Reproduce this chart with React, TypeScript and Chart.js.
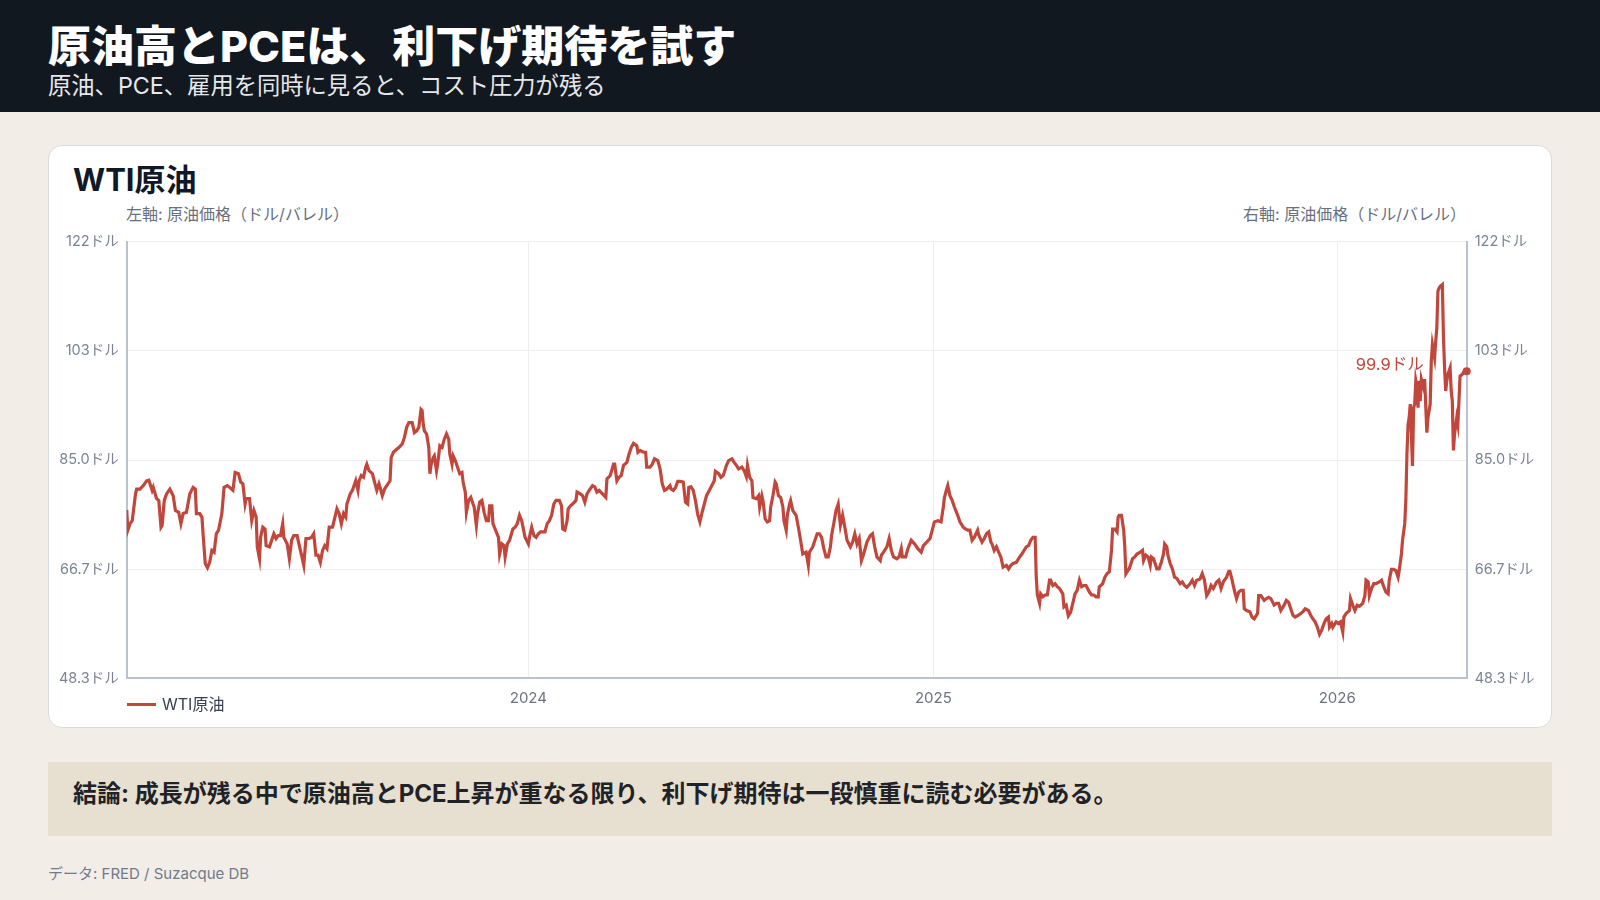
import { useEffect, useRef } from 'react'
import Chart from 'chart.js/auto'

// ─── palette ────────────────────────────────────────────────────────────────
const C = {
  page: '#f2eee7',
  header: '#111820',
  cardBorder: '#d7dce3',
  note: '#e7dfcf',
  line: '#c1463b',
  ink: '#111827',
  text: '#374151',
  muted: '#7b8494',
  axisTitle: '#687080',
  grid: '#eceef2',
  axis: '#b9c3cf',
}

const FONT = 'Inter, "Noto Sans CJK JP", "Noto Sans", sans-serif'

// ─── data: [days since 2023-01-01, WTI price in USD/bbl] ─────────────────────
const wtiDaily: [number, number][] = [
  [2, 76.6], [3, 73.2], [5, 74.3], [7, 74.8], [10, 79.3], [11, 80.1], [14, 80.1], [17, 80.7], [20, 81.5], [22, 81.6],
  [25, 79.9], [26, 80.4], [29, 78.5], [31, 78.2], [33, 73.7], [34, 74.0], [36, 78.2], [38, 79.3], [41, 80.1], [44, 79.0],
  [46, 76.5], [49, 76.2], [51, 74.3], [53, 76.0], [56, 76.2], [59, 79.3], [62, 80.4], [64, 80.1], [65, 76.0], [68, 76.0],
  [70, 75.4], [71, 72.6], [73, 67.6], [75, 66.9], [77, 67.8], [79, 69.8], [81, 69.5], [83, 72.6], [85, 73.2], [88, 76.0],
  [90, 80.4], [93, 80.7], [95, 80.4], [98, 79.9], [100, 82.9], [103, 82.7], [105, 81.3], [107, 81.0], [109, 77.6], [110, 78.5],
  [113, 78.5], [115, 74.8], [117, 76.5], [119, 75.4], [120, 70.4], [122, 68.4], [123, 72.0], [125, 73.7], [127, 73.4], [128, 70.6],
  [131, 70.4], [133, 71.5], [135, 72.6], [137, 71.8], [139, 72.3], [141, 72.3], [143, 74.3], [144, 72.0], [147, 70.9], [149, 68.4],
  [151, 71.5], [153, 72.3], [156, 72.3], [158, 70.6], [160, 69.0], [162, 67.3], [164, 71.8], [167, 71.8], [169, 72.0], [171, 72.6],
  [173, 69.0], [175, 69.0], [177, 67.8], [179, 69.8], [181, 70.6], [183, 70.1], [185, 73.7], [188, 73.7], [192, 76.8], [194, 76.0],
  [196, 74.3], [198, 76.0], [200, 75.4], [201, 77.6], [204, 79.3], [206, 79.9], [209, 81.5], [211, 79.9], [212, 81.5], [214, 82.4],
  [216, 82.1], [218, 83.8], [219, 84.3], [221, 83.2], [224, 82.7], [226, 81.3], [228, 79.9], [230, 81.0], [231, 80.4], [233, 79.0],
  [235, 80.1], [237, 80.7], [240, 81.5], [241, 85.4], [243, 86.3], [246, 86.8], [248, 87.1], [251, 87.7], [253, 88.8], [255, 90.5],
  [257, 91.3], [260, 91.3], [262, 89.6], [264, 89.9], [266, 90.5], [268, 93.5], [269, 93.3], [270, 91.0], [271, 89.9], [273, 89.4],
  [275, 87.1], [276, 82.7], [277, 84.1], [279, 85.4], [280, 85.7], [282, 83.2], [283, 84.3], [285, 87.4], [287, 87.1], [289, 88.5],
  [291, 89.4], [293, 88.5], [294, 86.0], [296, 84.3], [297, 85.7], [299, 84.9], [301, 83.8], [303, 82.7], [305, 82.9], [306, 81.3],
  [308, 79.6], [309, 76.2], [311, 78.2], [313, 78.7], [315, 77.6], [316, 77.1], [318, 74.0], [319, 75.9], [321, 77.9], [323, 78.2],
  [325, 76.2], [327, 74.8], [329, 74.8], [330, 77.3], [332, 77.3], [333, 74.3], [336, 72.9], [338, 72.0], [339, 69.2], [341, 70.9],
  [343, 70.6], [344, 68.7], [346, 70.9], [348, 71.5], [351, 73.4], [353, 73.7], [355, 74.3], [357, 75.7], [359, 74.8], [362, 72.0],
  [365, 70.9], [366, 72.0], [368, 73.7], [370, 72.3], [372, 72.0], [374, 72.6], [376, 72.9], [380, 72.9], [382, 74.3], [384, 74.8],
  [386, 75.7], [388, 77.6], [390, 78.2], [393, 78.2], [395, 77.3], [396, 73.4], [398, 73.2], [400, 74.8], [401, 76.8], [403, 77.3],
  [405, 77.6], [408, 78.2], [409, 79.6], [412, 79.3], [414, 79.0], [416, 77.9], [418, 79.3], [420, 79.9], [423, 80.7], [425, 80.5],
  [427, 79.6], [429, 79.9], [432, 79.3], [435, 78.7], [436, 81.8], [439, 82.4], [442, 84.3], [443, 84.3], [445, 81.5], [447, 82.1],
  [449, 82.4], [451, 84.1], [454, 84.6], [456, 86.0], [458, 87.1], [460, 87.8], [463, 87.4], [464, 86.3], [466, 86.6], [469, 86.3],
  [471, 86.3], [472, 83.8], [475, 83.8], [477, 84.3], [479, 85.2], [482, 84.9], [484, 83.5], [486, 81.0], [488, 79.9], [490, 80.1],
  [493, 80.7], [494, 80.1], [496, 79.9], [498, 80.4], [500, 81.4], [502, 81.4], [505, 81.3], [507, 77.9], [509, 77.6], [510, 80.4],
  [512, 80.5], [514, 79.9], [516, 78.2], [518, 75.9], [520, 74.6], [522, 76.2], [524, 77.6], [526, 79.0], [528, 79.7], [530, 80.4],
  [533, 81.5], [534, 83.1], [537, 82.7], [539, 82.1], [541, 82.4], [542, 82.9], [544, 84.1], [546, 84.9], [549, 85.2], [551, 84.6],
  [553, 84.1], [555, 83.5], [558, 83.8], [560, 83.2], [562, 82.2], [563, 84.1], [565, 82.1], [567, 81.5], [568, 78.7], [571, 78.5],
  [573, 79.0], [574, 77.1], [576, 79.0], [577, 78.2], [579, 75.1], [581, 74.6], [583, 74.8], [584, 77.1], [586, 79.0], [588, 81.3],
  [589, 81.0], [591, 79.0], [593, 78.7], [595, 77.1], [596, 74.8], [598, 73.2], [599, 75.7], [601, 77.6], [602, 78.2], [604, 76.5],
  [607, 75.7], [609, 73.7], [611, 71.5], [613, 69.2], [616, 69.5], [618, 67.3], [619, 69.5], [622, 70.4], [624, 71.5], [626, 72.6],
  [628, 72.6], [630, 72.0], [632, 70.1], [634, 68.7], [636, 68.7], [638, 70.4], [639, 72.3], [641, 74.3], [643, 76.5], [645, 77.6],
  [646, 75.7], [647, 74.0], [649, 75.7], [651, 73.7], [653, 71.5], [656, 70.4], [658, 71.2], [660, 72.6], [662, 70.9], [664, 71.8],
  [666, 68.1], [668, 69.2], [671, 71.2], [674, 72.3], [676, 72.6], [678, 70.4], [680, 68.7], [683, 68.1], [684, 69.0], [686, 69.5],
  [689, 70.4], [691, 71.8], [693, 69.8], [695, 68.7], [698, 68.4], [700, 68.7], [702, 70.1], [703, 68.7], [706, 68.7], [708, 70.1],
  [711, 71.5], [714, 70.9], [717, 70.1], [720, 69.5], [722, 70.6], [725, 71.2], [728, 71.8], [730, 73.2], [732, 74.6], [735, 74.8],
  [738, 74.6], [740, 77.1], [741, 78.7], [743, 80.1], [744, 80.7], [746, 79.0], [748, 78.2], [750, 77.1], [753, 75.7], [755, 74.6],
  [758, 73.7], [760, 73.4], [762, 73.2], [764, 73.2], [766, 71.5], [768, 72.0], [771, 73.2], [772, 72.4], [775, 71.2], [777, 71.8],
  [779, 72.6], [781, 72.9], [783, 71.2], [784, 70.9], [786, 69.8], [788, 70.4], [790, 69.5], [792, 68.7], [794, 67.0], [797, 67.3],
  [799, 66.7], [801, 67.3], [803, 67.6], [806, 67.8], [809, 68.7], [811, 69.2], [813, 69.8], [815, 70.4], [817, 70.6], [819, 71.5],
  [821, 72.0], [823, 72.0], [824, 65.3], [825, 62.3], [827, 60.9], [828, 62.5], [830, 62.0], [832, 62.3], [834, 62.3], [836, 64.8],
  [837, 64.8], [839, 63.9], [841, 64.2], [843, 63.7], [845, 63.4], [848, 62.5], [849, 60.3], [851, 60.6], [853, 58.8], [855, 59.4],
  [857, 60.9], [859, 62.5], [861, 63.1], [863, 64.8], [865, 63.7], [867, 63.9], [869, 63.9], [872, 62.8], [874, 62.3], [876, 62.3],
  [878, 62.0], [880, 62.0], [881, 63.7], [884, 64.2], [886, 65.3], [888, 65.9], [890, 66.2], [892, 69.8], [893, 73.4], [895, 73.4],
  [897, 72.9], [898, 75.4], [899, 75.7], [901, 75.7], [903, 73.2], [904, 70.4], [905, 65.9], [907, 66.5], [908, 66.7], [911, 68.4],
  [913, 68.7], [915, 69.2], [918, 69.5], [920, 69.8], [921, 68.1], [923, 69.0], [925, 68.7], [927, 67.3], [928, 68.7], [930, 68.4],
  [933, 66.7], [935, 66.7], [937, 67.8], [939, 69.2], [940, 70.9], [942, 70.4], [943, 69.0], [945, 67.6], [947, 66.7], [949, 65.3],
  [951, 65.1], [954, 64.2], [956, 64.5], [958, 63.9], [960, 63.6], [963, 64.2], [965, 64.8], [967, 63.9], [969, 64.8], [972, 65.0],
  [974, 65.9], [976, 64.8], [978, 62.2], [980, 62.8], [982, 63.9], [984, 63.4], [987, 64.5], [989, 64.8], [991, 63.4], [993, 64.5],
  [996, 65.3], [998, 66.3], [999, 66.3], [1001, 64.8], [1003, 63.1], [1005, 61.7], [1007, 62.8], [1009, 63.1], [1011, 63.1], [1012, 60.0],
  [1014, 59.7], [1017, 59.5], [1019, 58.6], [1021, 58.3], [1024, 59.2], [1025, 62.2], [1027, 62.2], [1030, 61.4], [1032, 61.7], [1034, 61.9],
  [1036, 61.7], [1039, 60.6], [1041, 60.9], [1043, 60.9], [1045, 59.7], [1048, 60.6], [1050, 61.4], [1052, 61.1], [1054, 60.0], [1056, 58.9],
  [1058, 58.6], [1061, 58.9], [1063, 59.2], [1065, 59.5], [1067, 60.0], [1070, 59.7], [1072, 58.9], [1074, 58.3], [1076, 57.8], [1078, 56.9],
  [1080, 55.7], [1082, 56.4], [1084, 57.5], [1086, 58.3], [1088, 58.6], [1089, 56.9], [1091, 57.5], [1092, 56.9], [1095, 57.8], [1097, 57.5],
  [1099, 57.8], [1101, 56.1], [1102, 58.6], [1104, 59.2], [1107, 59.7], [1108, 61.7], [1110, 60.6], [1112, 59.7], [1114, 60.6], [1116, 60.4],
  [1119, 60.9], [1121, 62.2], [1122, 64.8], [1124, 64.5], [1125, 62.2], [1127, 63.4], [1129, 64.2], [1131, 64.2], [1134, 64.5], [1136, 64.8],
  [1138, 63.7], [1140, 62.8], [1142, 62.5], [1143, 64.8], [1145, 66.6], [1147, 66.6], [1149, 66.4], [1151, 65.3], [1152, 66.4], [1154, 69.2],
  [1155, 71.5], [1157, 74.3], [1158, 78.2], [1159, 86.0], [1160, 91.0], [1161, 92.1], [1162, 94.4], [1163, 89.3], [1164, 84.0], [1165, 93.8],
  [1166, 94.4], [1167, 98.3], [1168, 97.2], [1169, 93.8], [1170, 98.3], [1171, 94.9], [1172, 98.6], [1174, 97.2], [1175, 98.6], [1177, 89.6],
  [1178, 92.1], [1180, 94.4], [1181, 101.6], [1182, 104.4], [1184, 102.2], [1185, 105.0], [1186, 107.2], [1187, 113.4], [1188, 113.9], [1189, 114.2],
  [1191, 114.5], [1192, 105.6], [1193, 100.5], [1194, 96.6], [1195, 98.3], [1196, 99.4], [1198, 100.5], [1199, 96.6], [1200, 94.9], [1201, 86.6],
  [1202, 89.3], [1204, 92.1], [1205, 91.0], [1206, 94.9], [1207, 99.1], [1209, 99.4], [1211, 100.0], [1213, 99.9],
]

// x ticks: Jan 1 of each year, as day offsets
const yearTicks = [365, 731, 1096]
const yearLabels = ['2024', '2025', '2026']

// y ticks (shared by both axes)
const priceTicks = [48.3, 66.65, 85.0, 103.35, 121.7]
const priceLabels = ['48.3ドル', '66.7ドル', '85.0ドル', '103ドル', '122ドル']

const SERIES_NAME = 'WTI原油'

// ─── end-of-line marker + value label ──────────────────────────────────────
const endLabel = {
  id: 'endLabel',
  afterDatasetsDraw(chart: any) {
    const meta = chart.getDatasetMeta(0)
    const pt = meta.data[meta.data.length - 1]
    if (!pt) return
    const last = wtiDaily[wtiDaily.length - 1][1]
    const ctx = chart.ctx
    ctx.save()
    ctx.fillStyle = C.line
    ctx.beginPath()
    ctx.arc(pt.x, pt.y, 4, 0, Math.PI * 2)
    ctx.fill()
    ctx.font = `16.5px ${FONT}`
    ctx.textAlign = 'right'
    ctx.textBaseline = 'middle'
    ctx.fillText(`${last.toFixed(1)}ドル`, pt.x - 43, pt.y - 6)
    ctx.restore()
  },
}

function WtiChart() {
  const canvasRef = useRef<HTMLCanvasElement>(null)

  useEffect(() => {
    const canvas = canvasRef.current
    if (!canvas) return
    const first = wtiDaily[0][0]
    const last = wtiDaily[wtiDaily.length - 1][0]

    const yTicks = {
      color: C.muted,
      font: { size: 14.5, family: FONT },
      padding: 8,
      autoSkip: false,
      callback: (_v: any, i: number) => priceLabels[i],
    }

    const chart = new Chart(canvas, {
      type: 'line',
      data: {
        datasets: [
          {
            label: SERIES_NAME,
            data: wtiDaily.map(([x, y]) => ({ x, y })),
            borderColor: C.line,
            backgroundColor: C.line,
            borderWidth: 3.2,
            pointRadius: 0,
            tension: 0,
            yAxisID: 'y',
          },
        ],
      },
      options: {
        animation: false,
        responsive: false,
        maintainAspectRatio: false,
        layout: { padding: { top: 15, left: 0, right: 0, bottom: 0 } },
        plugins: { legend: { display: false }, tooltip: { enabled: false } },
        scales: {
          x: {
            type: 'linear',
            min: first,
            max: last,
            afterBuildTicks: (s: any) => {
              s.ticks = yearTicks.map((value) => ({ value }))
            },
            afterFit: (s: any) => {
              s.height = 46.7
            },
            ticks: {
              color: '#6b7280',
              font: { size: 15, family: FONT },
              padding: 11,
              maxRotation: 0,
              autoSkip: false,
              callback: (v: any) => yearLabels[yearTicks.indexOf(Number(v))] ?? '',
            },
            grid: { color: C.grid, lineWidth: 1, drawTicks: false },
            border: { color: C.axis, width: 2 },
          },
          y: {
            type: 'linear',
            position: 'left',
            min: priceTicks[0],
            max: priceTicks[priceTicks.length - 1],
            afterBuildTicks: (s: any) => {
              s.ticks = priceTicks.map((value) => ({ value }))
            },
            afterFit: (s: any) => {
              s.width = 78.7
            },
            ticks: yTicks,
            grid: { color: C.grid, lineWidth: 1, drawTicks: false },
            border: { color: C.axis, width: 2 },
          },
          y1: {
            type: 'linear',
            position: 'right',
            min: priceTicks[0],
            max: priceTicks[priceTicks.length - 1],
            afterBuildTicks: (s: any) => {
              s.ticks = priceTicks.map((value) => ({ value }))
            },
            afterFit: (s: any) => {
              s.width = 85.3
            },
            ticks: yTicks,
            grid: { display: false, drawTicks: false },
            border: { color: C.axis, width: 2 },
          },
        },
      },
      plugins: [endLabel],
    } as any)
    return () => chart.destroy()
  }, [])

  return (
    <canvas
      ref={canvasRef}
      width={1504}
      height={500}
      style={{ position: 'absolute', left: 48, top: 225, width: 1504, height: 500 }}
    />
  )
}

const abs = (s: React.CSSProperties): React.CSSProperties => ({
  position: 'absolute',
  whiteSpace: 'nowrap',
  lineHeight: 1,
  ...s,
})

export default function App() {
  return (
    <div
      style={{
        position: 'fixed',
        left: 0,
        top: 0,
        width: 1600,
        height: 900,
        background: C.page,
        fontFamily: FONT,
        overflow: 'hidden',
      }}
    >
      {/* header */}
      <div style={{ position: 'absolute', left: 0, top: 0, width: 1600, height: 112, background: C.header }} />
      <div style={abs({ left: 48, top: 25, fontSize: 43, fontWeight: 800, color: '#ffffff' })}>
        原油高とPCEは、利下げ期待を試す
      </div>
      <div style={abs({ left: 48, top: 74, fontSize: 23.3, color: '#e5e7eb' })}>
        原油、PCE、雇用を同時に見ると、コスト圧力が残る
      </div>

      {/* chart card */}
      <div
        style={{
          position: 'absolute',
          left: 48,
          top: 145,
          width: 1504,
          height: 583,
          boxSizing: 'border-box',
          background: '#ffffff',
          border: `1.5px solid ${C.cardBorder}`,
          borderRadius: 14,
        }}
      />
      <div style={abs({ left: 73, top: 164, fontSize: 31, fontWeight: 700, color: C.ink })}>{SERIES_NAME}</div>
      <div style={abs({ left: 126, top: 206, fontSize: 16, color: C.axisTitle })}>左軸: 原油価格（ドル/バレル）</div>
      <div style={abs({ right: 134, top: 206, fontSize: 16, color: C.axisTitle })}>右軸: 原油価格（ドル/バレル）</div>
      <WtiChart />

      {/* legend */}
      <div style={{ position: 'absolute', left: 126.5, top: 702.5, width: 29, height: 3.5, background: C.line }} />
      <div style={abs({ left: 162, top: 695.5, fontSize: 16, color: C.text })}>{SERIES_NAME}</div>

      {/* conclusion */}
      <div style={{ position: 'absolute', left: 48, top: 762, width: 1504, height: 74, background: C.note }} />
      <div style={abs({ left: 73, top: 782, fontSize: 24, fontWeight: 700, color: '#1f2328' })}>
        結論: 成長が残る中で原油高とPCE上昇が重なる限り、利下げ期待は一段慎重に読む必要がある。
      </div>

      {/* source */}
      <div style={abs({ left: 48, top: 866, fontSize: 15, color: '#707a8c' })}>データ: FRED / Suzacque DB</div>
    </div>
  )
}
